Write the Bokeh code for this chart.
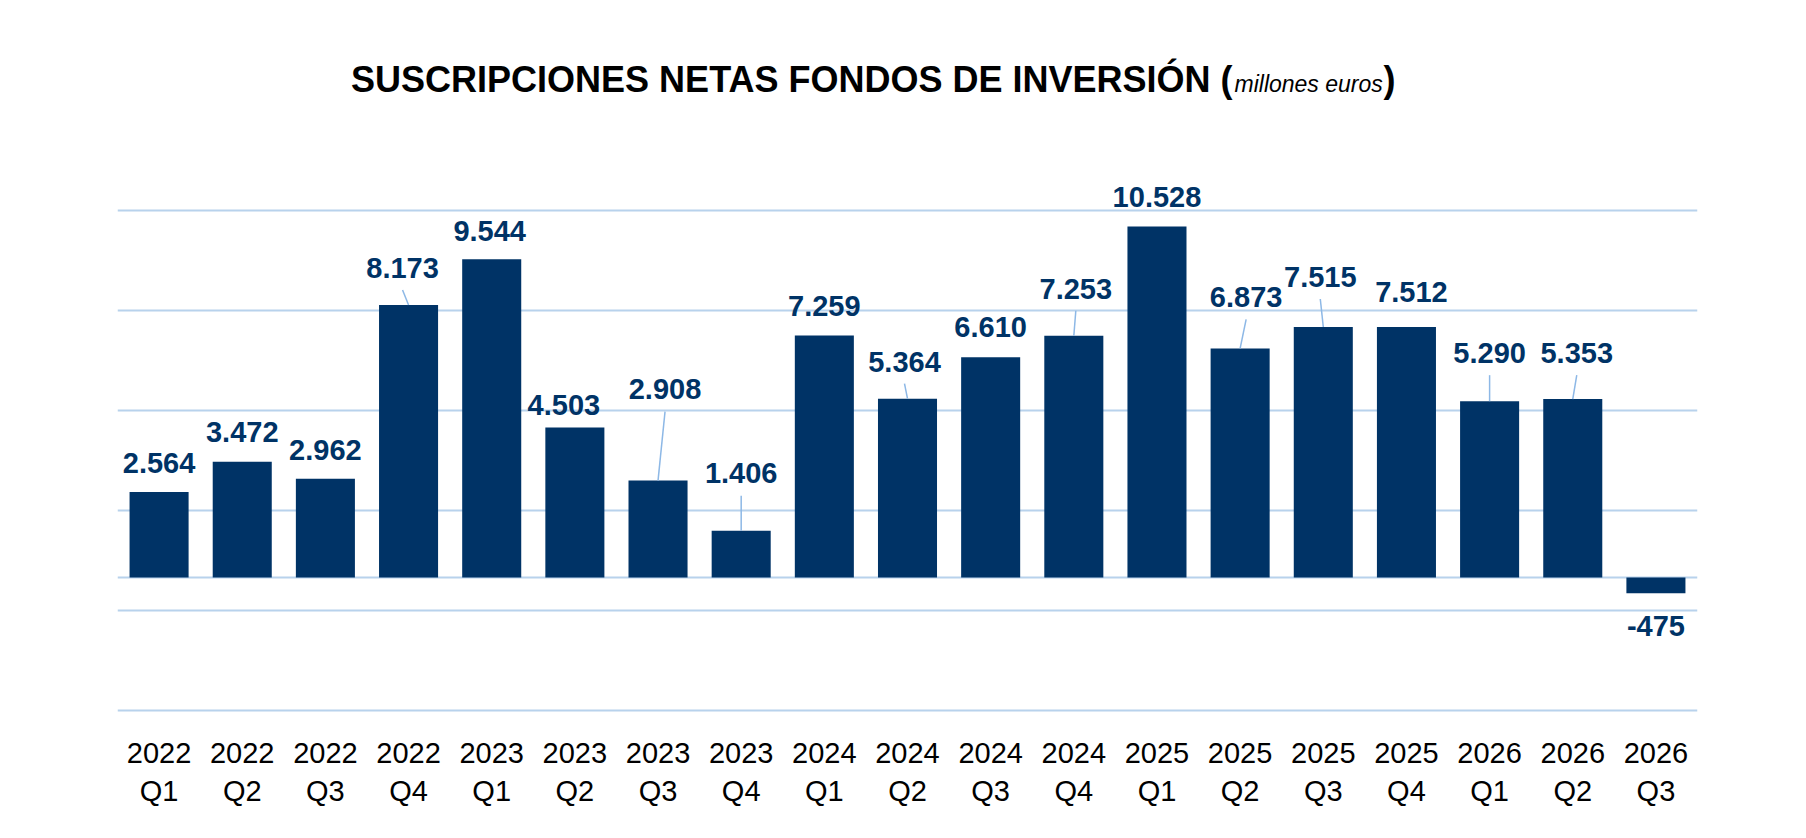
from bokeh.plotting import figure
from bokeh.models import Range1d, FixedTicker, Span
from bokeh.embed import file_html
from bokeh.resources import INLINE
from bokeh.core.properties import value

# ---- data ----
periods = ["2022\nQ1", "2022\nQ2", "2022\nQ3", "2022\nQ4",
           "2023\nQ1", "2023\nQ2", "2023\nQ3", "2023\nQ4",
           "2024\nQ1", "2024\nQ2", "2024\nQ3", "2024\nQ4",
           "2025\nQ1", "2025\nQ2", "2025\nQ3", "2025\nQ4",
           "2026\nQ1", "2026\nQ2", "2026\nQ3"]
values = [2564, 3472, 2962, 8173, 9544, 4503, 2908, 1406, 7259, 5364,
          6610, 7253, 10528, 6873, 7515, 7512, 5290, 5353, -475]
value_labels = ["2.564", "3.472", "2.962", "8.173", "9.544", "4.503", "2.908",
                "1.406", "7.259", "5.364", "6.610", "7.253", "10.528", "6.873",
                "7.515", "7.512", "5.290", "5.353", "-475"]
grid_values = [-4000, -1000, 2000, 5000, 8000, 11000]
title_main = "SUSCRIPCIONES NETAS FONDOS DE INVERSIÓN ("
title_unit = "millones euros"
title_end = ")"

# ---- label layout (pixels): distance bar end -> label baseline, horizontal shift, leader line ----
label_gap_px = [19, 20, 19, 27, 18, 12, 81, 47, 19, 27, 20, 37, 19, 41, 40, 25, 38, 36, 43]
label_dx_px = [0, 0, 0, -6, -2, -11, 7, 0, 0, -3, 0, 2, 0, 6, -3, 5, 0, 4, 0]
has_leader = [False, False, False, True, False, False, True, True, False, True,
              False, True, False, True, True, False, True, True, False]

# ---- styles ----
NAVY = "#003366"
GRID = "#B8D2EC"
LEADER = "#8DB8E6"
FONT = "Liberation Sans"
LABEL_SIZE = 29
BASE_FIX = 0.35              # baseline correction (fraction of font size)

LEFT, TOP = 117, 40          # frame position on the page
ZERO_Y = 577                 # page row of the zero line
FRAME_W, FRAME_H = 1580, 690
U_PER_PX = 30.0
Y1 = (ZERO_Y - TOP) * U_PER_PX
Y0 = -(TOP + FRAME_H - ZERO_Y) * U_PER_PX
n = len(values)
px_x = FRAME_W / n

idx = list(range(n))
p = figure(frame_width=FRAME_W, frame_height=FRAME_H,
           min_border_left=LEFT, min_border_right=1806 - LEFT - FRAME_W,
           min_border_top=TOP, min_border_bottom=100,
           x_range=Range1d(-0.5, n - 0.5), y_range=Range1d(Y0, Y1),
           output_backend="svg", toolbar_location=None,
           background_fill_color="white", border_fill_color="white")
p.outline_line_color = None

# grid
p.xgrid.visible = False
p.ygrid.ticker = FixedTicker(ticks=grid_values)
p.ygrid.grid_line_color = GRID
p.ygrid.grid_line_width = 2
p.yaxis.visible = False

p.add_layout(Span(location=0, dimension="width", line_color=GRID, line_width=2, level="underlay"))

# bars
p.vbar(x=idx, top=values, bottom=0, width=0.71, fill_color=NAVY, line_color=None)

# value labels + leader lines
fix = BASE_FIX * LABEL_SIZE
lx, ly, sx0, sy0, sx1, sy1 = [], [], [], [], [], []
for i, v in enumerate(values):
    x = i + label_dx_px[i] / px_x
    if v >= 0:
        y = v + (label_gap_px[i] + fix) * U_PER_PX
    else:
        y = v - (label_gap_px[i] - fix) * U_PER_PX
    lx.append(x)
    ly.append(y)
    if has_leader[i]:
        sx0.append(x)
        sy0.append(v + (label_gap_px[i] - 12) * U_PER_PX)
        sx1.append(i)
        sy1.append(v)

p.segment(x0=sx0, y0=sy0, x1=sx1, y1=sy1, line_color=LEADER, line_width=1.5)
p.text(x=lx, y=ly, text=value_labels, text_align="center", text_baseline="alphabetic",
       text_font=value(FONT), text_font_size=f"{LABEL_SIZE}px", text_font_style="bold",
       text_color=NAVY)

# x axis
p.xaxis.ticker = FixedTicker(ticks=idx)
p.xaxis.major_label_overrides = {i: periods[i] for i in idx}
p.xaxis.axis_line_color = None
p.xaxis.major_tick_line_color = None
p.xaxis.minor_tick_line_color = None
p.xaxis.major_label_text_font = FONT
p.xaxis.major_label_text_font_size = "29px"
p.xaxis.major_label_text_color = "black"
p.xaxis.major_label_standoff = 0

# title (mixed styles), placed in page pixels
def page_x(px):
    return (px - LEFT) / px_x - 0.5

def page_y(py):
    return (ZERO_Y - py) * U_PER_PX

TITLE_SIZE, UNIT_SIZE = 36, 23
ty = page_y(92 - BASE_FIX * TITLE_SIZE)
tyu = page_y(92 - BASE_FIX * UNIT_SIZE)
p.text(x=[page_x(1232)], y=[ty], text=[title_main], text_align="right",
       text_baseline="alphabetic", text_font=value(FONT), text_font_size=f"{TITLE_SIZE}px",
       text_font_style="bold", text_color="black")
p.text(x=[page_x(1234)], y=[tyu], text=[title_unit], text_align="left",
       text_baseline="alphabetic", text_font=value(FONT), text_font_size=f"{UNIT_SIZE}px",
       text_font_style="italic", text_color="black")
p.text(x=[page_x(1383)], y=[ty], text=[title_end], text_align="left",
       text_baseline="alphabetic", text_font=value(FONT), text_font_size=f"{TITLE_SIZE}px",
       text_font_style="bold", text_color="black")

open("out.html", "w").write(file_html(p, INLINE))
